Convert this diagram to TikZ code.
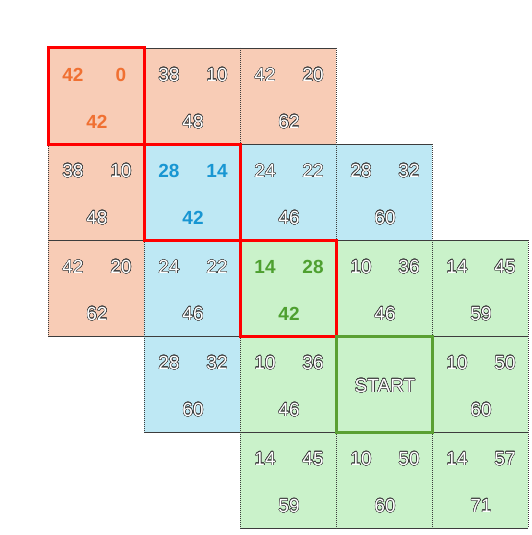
\documentclass[tikz,border=0pt]{standalone}
\usepackage{fontspec}
\setmainfont{Liberation Sans}
\usepackage{xcolor}
\usepackage{contour}
\contourlength{0.4pt}
\contournumber{24}

\definecolor{salmon}{RGB}{248,204,182}
\definecolor{skyfill}{RGB}{190,232,244}
\definecolor{leaf}{RGB}{202,242,202}
\definecolor{numline}{RGB}{60,60,60}
\definecolor{orangenum}{RGB}{240,112,50}
\definecolor{bluenum}{RGB}{24,150,210}
\definecolor{greennum}{RGB}{78,160,48}
\definecolor{startframe}{RGB}{90,160,50}

\newcommand{\outl}[1]{{\color{white}\contour{numline}{#1}}}

\begin{document}
\begin{tikzpicture}[x=1pt, y=-1pt,
    cellbox/.style={minimum size=96pt, inner sep=0pt, outer sep=0pt},
    hline/.style={numline, line width=0.9pt},
    vline/.style={numline, line width=0.9pt, dash pattern=on 1pt off 1pt},
    num/.style={font=\fontsize{19}{21}\selectfont, inner sep=0pt},
    bnum/.style={num, font=\fontsize{19}{21}\selectfont\bfseries},
    redframe/.style={red, line width=3pt},
    startbox/.style={startframe, line width=3pt}]
      \useasboundingbox (0,0) rectangle (531,535);
      % cells: column/row/fill
      \foreach \c/\r/\fc in {0/0/salmon, 1/0/salmon, 2/0/salmon, 0/1/salmon, 0/2/salmon,
          1/1/skyfill, 2/1/skyfill, 3/1/skyfill, 1/2/skyfill, 1/3/skyfill,
          2/2/leaf, 3/2/leaf, 4/2/leaf, 2/3/leaf, 3/3/leaf, 4/3/leaf,
          2/4/leaf, 3/4/leaf, 4/4/leaf}
      {
        \node[cellbox, fill=\fc] (c\c\r) at ({96+96*\c},{96+96*\r}) {};
        \draw[hline] (c\c\r.north west) -- (c\c\r.north east);
        \draw[hline] (c\c\r.south west) -- (c\c\r.south east);
        \draw[vline] (c\c\r.north west) -- (c\c\r.south west);
        \draw[vline] (c\c\r.north east) -- (c\c\r.south east);
      }
      % plain cells: column/row/left/right/sum
      \foreach \c/\r/\a/\b/\s in {1/0/38/10/48, 2/0/42/20/62, 0/1/38/10/48, 2/1/24/22/46,
          3/1/28/32/60, 0/2/42/20/62, 1/2/24/22/46, 3/2/10/36/46, 4/2/14/45/59,
          1/3/28/32/60, 2/3/10/36/46, 4/3/10/50/60, 2/4/14/45/59, 3/4/10/50/60,
          4/4/14/57/71}
      {
        \node[num] (a\c\r) at ([xshift=-23pt, yshift=21pt]c\c\r.center) {\outl{\a}};
        \node[num] (b\c\r) at ([xshift=25pt, yshift=21pt]c\c\r.center) {\outl{\b}};
        \node[num] (s\c\r) at ([xshift=1pt, yshift=-26pt]c\c\r.center) {\outl{\s}};
      }
      % path found so far
      \draw[redframe] (c00.north west) rectangle (c00.south east);
      \draw[redframe] (c11.north west) rectangle (c11.south east);
      \draw[redframe] (c22.north west) rectangle (c22.south east);
      \draw[startbox] (c33.north west) rectangle (c33.south east);
      \node[bnum, orangenum] (a00) at ([xshift=-23pt, yshift=21pt]c00.center) {42};
      \node[bnum, orangenum] (b00) at ([xshift=25pt, yshift=21pt]c00.center) {0};
      \node[bnum, orangenum] (s00) at ([xshift=1pt, yshift=-26pt]c00.center) {42};
      \node[bnum, bluenum] (a11) at ([xshift=-23pt, yshift=21pt]c11.center) {28};
      \node[bnum, bluenum] (b11) at ([xshift=25pt, yshift=21pt]c11.center) {14};
      \node[bnum, bluenum] (s11) at ([xshift=1pt, yshift=-26pt]c11.center) {42};
      \node[bnum, greennum] (a22) at ([xshift=-23pt, yshift=21pt]c22.center) {14};
      \node[bnum, greennum] (b22) at ([xshift=25pt, yshift=21pt]c22.center) {28};
      \node[bnum, greennum] (s22) at ([xshift=1pt, yshift=-26pt]c22.center) {42};
      \node[num] (start) at ([xshift=1pt, yshift=-2pt]c33.center) {\outl{START}};
    \end{tikzpicture}
\end{document}
